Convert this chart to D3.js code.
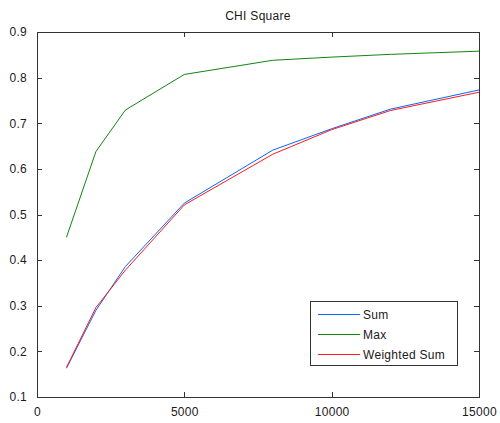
<!DOCTYPE html>
<html>
<head>
<meta charset="utf-8">
<script src="https://cdn.jsdelivr.net/npm/d3@7"></script>
<style>
  body { margin: 0; background: #fff; }
  svg { display: block; font-family: "Liberation Sans", Arial, sans-serif; }
  text { fill: #1a1a1a; font-size: 12px; letter-spacing: 0.3px; }
</style>
</head>
<body>
<svg id="chart" width="500" height="423"></svg>
<script>
// Sample sizes and the CHI square scores of each combination method
const sampleSizes = [1000, 2000, 3000, 5000, 8000, 10000, 12000, 15000];
const sumScores = [0.163, 0.29, 0.386, 0.525, 0.641, 0.688, 0.731, 0.773];
const maxScores = [0.45, 0.638, 0.729, 0.807, 0.838, 0.845, 0.851, 0.858];
const weightedSumScores = [0.165, 0.296, 0.378, 0.521, 0.632, 0.686, 0.728, 0.768];
const seriesNames = ["Sum", "Max", "Weighted Sum"];
const xTicks = [0, 5000, 10000, 15000];
const yTicks = [0.1, 0.2, 0.3, 0.4, 0.5, 0.6, 0.7, 0.8, 0.9];
const chartTitle = "CHI Square";

const colors = ["#0a66ff", "#108510", "#ff1a1a"];
const series = [sumScores, maxScores, weightedSumScores];

const svg = d3.select("#chart");
const plotLeft = 37, plotRight = 479, plotTop = 32, plotBottom = 397;

const x = d3.scaleLinear().domain([0, 15000]).range([plotLeft, plotRight]);
const y = d3.scaleLinear().domain([0.1, 0.9]).range([plotBottom, plotTop]);

const axisColor = "#333";
const tickLen = 5;

// Ticks on all four sides, pointing inward
function styleAxis(g) {
  g.select(".domain").remove();
  g.selectAll(".tick line").attr("stroke", axisColor).attr("shape-rendering", "crispEdges");
}

svg.append("g")
  .attr("transform", `translate(0,${plotBottom})`)
  .call(d3.axisBottom(x).tickValues(xTicks).tickSizeInner(-tickLen).tickSizeOuter(0).tickPadding(10).tickFormat(d3.format("d")))
  .call(styleAxis)
  .call(g => g.selectAll("text").attr("font-size", 12).attr("fill", "#1a1a1a").attr("font-family", "Liberation Sans, Arial, sans-serif"));

svg.append("g")
  .attr("transform", `translate(0,${plotTop})`)
  .call(d3.axisTop(x).tickValues(xTicks).tickSizeInner(-tickLen).tickSizeOuter(0).tickFormat(""))
  .call(styleAxis);

svg.append("g")
  .attr("transform", `translate(${plotLeft},0)`)
  .call(d3.axisLeft(y).tickValues(yTicks).tickSizeInner(-tickLen).tickSizeOuter(0).tickPadding(10).tickFormat(d3.format(".1f")))
  .call(styleAxis)
  .call(g => g.selectAll("text").attr("font-size", 12).attr("fill", "#1a1a1a").attr("font-family", "Liberation Sans, Arial, sans-serif"));

svg.append("g")
  .attr("transform", `translate(${plotRight},0)`)
  .call(d3.axisRight(y).tickValues(yTicks).tickSizeInner(-tickLen).tickSizeOuter(0).tickFormat(""))
  .call(styleAxis);

// Plot box
svg.append("rect")
  .attr("x", plotLeft + 0.5).attr("y", plotTop + 0.5)
  .attr("width", plotRight - plotLeft).attr("height", plotBottom - plotTop)
  .attr("fill", "none").attr("stroke", axisColor).attr("stroke-width", 1);

// Series lines
const line = d3.line()
  .x((d, i) => x(sampleSizes[i]))
  .y(d => y(d));

series.forEach((vals, i) => {
  svg.append("path")
    .datum(vals)
    .attr("d", line)
    .attr("fill", "none")
    .attr("stroke", colors[i])
    .attr("stroke-width", 1);
});

// Title
svg.append("text")
  .attr("x", (plotLeft + plotRight) / 2)
  .attr("y", 20)
  .attr("text-anchor", "middle")
  .text(chartTitle);

// Legend
const legend = svg.append("g");
legend.append("rect")
  .attr("x", 310.5).attr("y", 301.5)
  .attr("width", 147).attr("height", 64)
  .attr("fill", "#fff").attr("stroke", axisColor);

seriesNames.forEach((name, i) => {
  const ly = 314.5 + i * 20;
  legend.append("line")
    .attr("x1", 318).attr("x2", 360)
    .attr("y1", ly).attr("y2", ly)
    .attr("stroke", colors[i]).attr("stroke-width", 1);
  legend.append("text")
    .attr("x", 363).attr("y", ly + 4.5)
    .text(name);
});
</script>
</body>
</html>
